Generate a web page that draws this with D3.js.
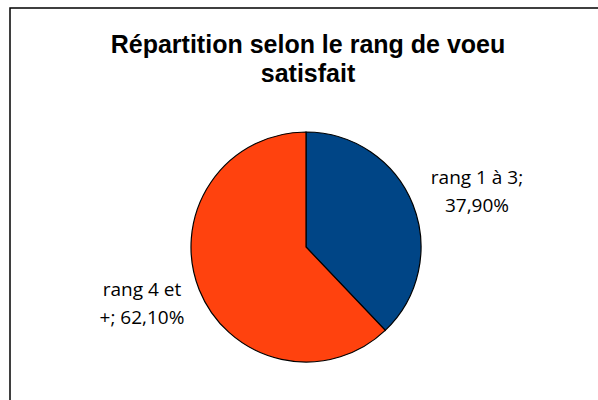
<!DOCTYPE html>
<html lang="fr">
<head>
<meta charset="UTF-8">
<title>Répartition selon le rang de voeu satisfait</title>
<script src="https://cdn.jsdelivr.net/npm/d3@7"></script>
<style>
  body { margin: 0; background: #fff; }
  svg { display: block; }
</style>
</head>
<body>
<svg id="chart"></svg>
<script>
  const width = 598, height = 400;

  // data
  const categories = ["rang 1 à 3", "rang 4 et +"];
  const values = [37.9, 62.1];
  const colors = ["#004586", "#ff420e"];
  const labelLines = [["rang 1 à 3;", "37,90%"], ["rang 4 et", "+; 62,10%"]];
  const titleLines = ["Répartition selon le rang de voeu", "satisfait"];

  const svg = d3.select("#chart").attr("width", width).attr("height", height);

  // chart border (runs past right / bottom edge like the original)
  svg.append("rect")
    .attr("x", 10).attr("y", 8)
    .attr("width", 600).attr("height", 400)
    .attr("fill", "none")
    .attr("stroke", "#000")
    .attr("stroke-width", 1.5);

  // title
  svg.append("text")
    .attr("text-anchor", "middle")
    .attr("font-family", "Liberation Sans, Arial, sans-serif")
    .attr("font-weight", "bold")
    .attr("font-size", 25)
    .selectAll("tspan")
    .data(titleLines)
    .join("tspan")
    .attr("x", 308)
    .attr("y", (d, i) => 53 + i * 29)
    .text(d => d);

  // pie
  const cx = 306, cy = 247, r = 115;
  const pie = d3.pie().sort(null).value(d => d);
  const arc = d3.arc().innerRadius(0).outerRadius(r);
  const arcs = pie(values);

  const g = svg.append("g").attr("transform", `translate(${cx},${cy})`);
  g.selectAll("path")
    .data(arcs)
    .join("path")
    .attr("d", arc)
    .attr("fill", (d, i) => colors[i])
    .attr("stroke", "#000")
    .attr("stroke-width", 1.2);

  // labels outside the pie
  const labelPos = [[477, 184], [142, 296]];
  const labels = svg.append("g")
    .attr("font-family", "Open Sans, sans-serif")
    .attr("font-size", 19)
    .attr("fill", "#000")
    .attr("text-anchor", "middle");

  labels.selectAll("text")
    .data(arcs)
    .join("text")
    .each(function (d, i) {
      d3.select(this).selectAll("tspan")
        .data(labelLines[i])
        .join("tspan")
        .attr("x", labelPos[i][0])
        .attr("y", (t, j) => labelPos[i][1] + j * 28)
        .text(t => t);
    });
</script>
</body>
</html>
